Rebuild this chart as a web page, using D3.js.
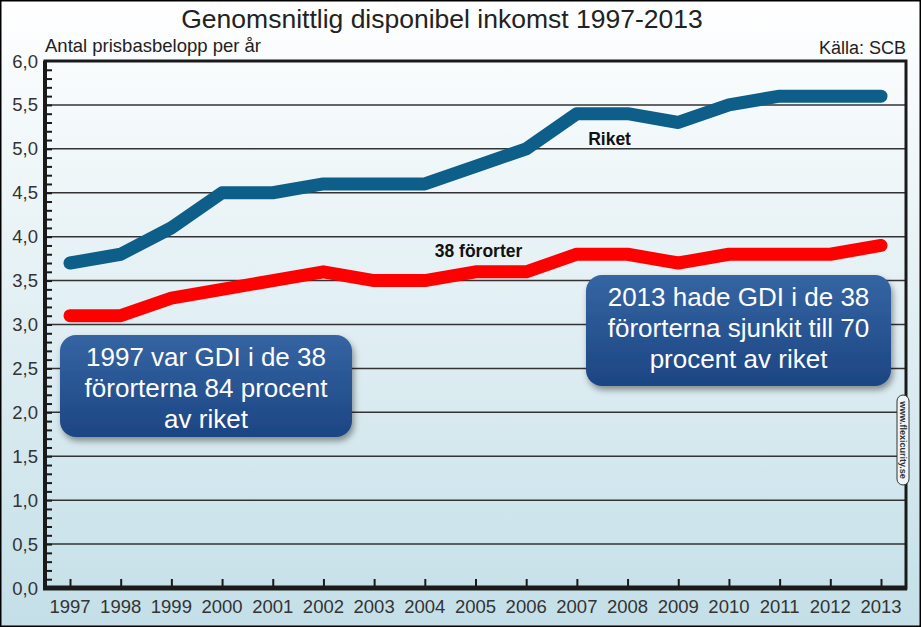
<!DOCTYPE html>
<html>
<head>
<meta charset="utf-8">
<script src="https://cdn.jsdelivr.net/npm/d3@7"></script>
<style>
  body { margin: 0; background: #fff; }
  svg { display: block; font-family: "Liberation Sans", Arial, sans-serif; }
</style>
</head>
<body>
<div class="chart"></div>
<script>
var years = [1997, 1998, 1999, 2000, 2001, 2002, 2003, 2004, 2005, 2006, 2007, 2008, 2009, 2010, 2011, 2012, 2013];
var riket = [3.7, 3.8, 4.1, 4.5, 4.5, 4.6, 4.6, 4.6, 4.8, 5.0, 5.4, 5.4, 5.3, 5.5, 5.6, 5.6, 5.6];
var fororter = [3.1, 3.1, 3.3, 3.4, 3.5, 3.6, 3.5, 3.5, 3.6, 3.6, 3.8, 3.8, 3.7, 3.8, 3.8, 3.8, 3.9];
var yTicks = [0, 0.5, 1, 1.5, 2, 2.5, 3, 3.5, 4, 4.5, 5, 5.5, 6];
var leftBoxLines = ["1997 var GDI i de 38", "förorterna 84 procent", "av riket"];
var rightBoxLines = ["2013 hade GDI i de 38", "förorterna sjunkit till 70", "procent av riket"];

var svgWidth = 921;
var svgHeight = 627;
var margin = { top: 61, right: 15, bottom: 39, left: 45 };
var width = svgWidth - margin.left - margin.right;
var height = svgHeight - margin.top - margin.bottom;

var svg = d3.select(".chart")
  .append("svg")
  .attr("width", svgWidth)
  .attr("height", svgHeight);

var defs = svg.append("defs");

// background gradient, white at top to pale blue at bottom
var bg = defs.append("linearGradient")
  .attr("id", "bg").attr("x1", 0).attr("y1", 0).attr("x2", 0).attr("y2", 1);
bg.append("stop").attr("offset", "0%").attr("stop-color", "#ffffff");
bg.append("stop").attr("offset", "100%").attr("stop-color", "#c4dfe8");

var boxGrad = defs.append("linearGradient")
  .attr("id", "boxGrad").attr("x1", 0).attr("y1", 0).attr("x2", 0).attr("y2", 1);
boxGrad.append("stop").attr("offset", "0%").attr("stop-color", "#3565a3");
boxGrad.append("stop").attr("offset", "100%").attr("stop-color", "#1d4583");

var shadow = defs.append("filter").attr("id", "shadow")
  .attr("x", "-10%").attr("y", "-10%").attr("width", "130%").attr("height", "140%");
shadow.append("feDropShadow")
  .attr("dx", 2).attr("dy", 4).attr("stdDeviation", 3)
  .attr("flood-color", "#000").attr("flood-opacity", 0.4);

svg.append("rect")
  .attr("x", 0.5).attr("y", 0.5)
  .attr("width", svgWidth - 1).attr("height", svgHeight - 1)
  .attr("fill", "url(#bg)")
  .attr("stroke", "#000")
  .attr("stroke-width", 2);

// titles
svg.append("text")
  .attr("x", 442).attr("y", 28)
  .attr("text-anchor", "middle")
  .attr("font-size", 26.5)
  .attr("fill", "#222")
  .text("Genomsnittlig disponibel inkomst 1997-2013");

svg.append("text")
  .attr("x", 45).attr("y", 52)
  .attr("font-size", 18.5)
  .attr("fill", "#222")
  .text("Antal prisbasbelopp per år");

svg.append("text")
  .attr("x", 906).attr("y", 54)
  .attr("text-anchor", "end")
  .attr("font-size", 18)
  .attr("fill", "#222")
  .text("Källa: SCB");

var chartGroup = svg.append("g")
  .attr("transform", `translate(${margin.left}, ${margin.top})`);

var xScale = d3.scalePoint()
  .domain(years)
  .range([25, width - 25]);

var yScale = d3.scaleLinear()
  .domain([0, 6])
  .range([height, 0]);

// horizontal grid lines
chartGroup.selectAll(".grid")
  .data(yTicks.slice(1))
  .enter()
  .append("line")
  .attr("x1", 0).attr("x2", width)
  .attr("y1", d => yScale(d)).attr("y2", d => yScale(d))
  .attr("stroke", "#333")
  .attr("stroke-width", 1.5);

// frame
chartGroup.append("rect")
  .attr("width", width).attr("height", height)
  .attr("fill", "none")
  .attr("stroke", "#1a1a1a")
  .attr("stroke-width", 3);

// y axis with minor ticks
var yAxis = d3.axisRight(yScale)
  .tickValues(d3.range(0, 60, 1).map(d => d / 10))
  .tickSize(7)
  .tickFormat("");
chartGroup.append("g")
  .call(yAxis)
  .call(g => g.select(".domain").remove())
  .call(g => g.selectAll("line").attr("stroke", "#1a1a1a").attr("stroke-width", 2));

chartGroup.selectAll(".ylab")
  .data(yTicks)
  .enter()
  .append("text")
  .attr("x", -7)
  .attr("y", d => yScale(d) + 6.5)
  .attr("text-anchor", "end")
  .attr("font-size", 18.5)
  .attr("fill", "#333")
  .text(d => d3.format(".1f")(d).replace(".", ","));

// x axis
var xAxis = d3.axisTop(xScale).tickSize(9).tickFormat("");
chartGroup.append("g")
  .attr("transform", `translate(0, ${height})`)
  .call(xAxis)
  .call(g => g.select(".domain").remove())
  .call(g => g.selectAll("line").attr("stroke", "#1a1a1a").attr("stroke-width", 2));

chartGroup.selectAll(".xlab")
  .data(years)
  .enter()
  .append("text")
  .attr("x", d => xScale(d))
  .attr("y", height + 25)
  .attr("text-anchor", "middle")
  .attr("font-size", 18.5)
  .attr("fill", "#333")
  .text(d => d);

// thick left and bottom axis lines
chartGroup.append("line")
  .attr("x1", 0).attr("x2", 0).attr("y1", 0).attr("y2", height + 2)
  .attr("stroke", "#1a1a1a").attr("stroke-width", 4);
chartGroup.append("line")
  .attr("x1", -2).attr("x2", width + 1).attr("y1", height).attr("y2", height)
  .attr("stroke", "#1a1a1a").attr("stroke-width", 5);

var line = d3.line()
  .x((d, i) => xScale(years[i]))
  .y(d => yScale(d));

chartGroup.append("path")
  .datum(riket)
  .attr("d", line)
  .attr("fill", "none")
  .attr("stroke", "#0d5e88")
  .attr("stroke-width", 13)
  .attr("stroke-linecap", "round")
  .attr("stroke-linejoin", "round");

chartGroup.append("path")
  .datum(fororter)
  .attr("d", line)
  .attr("fill", "none")
  .attr("stroke", "#ff0000")
  .attr("stroke-width", 13)
  .attr("stroke-linecap", "round")
  .attr("stroke-linejoin", "round");

// series labels
chartGroup.append("text")
  .attr("x", xScale(2008) - 18)
  .attr("y", yScale(5.4) + 31)
  .attr("text-anchor", "middle")
  .attr("font-size", 17.5)
  .attr("font-weight", "bold")
  .attr("fill", "#111")
  .text("Riket");

chartGroup.append("text")
  .attr("x", xScale(2005) + 3)
  .attr("y", yScale(3.6) - 15)
  .attr("text-anchor", "middle")
  .attr("font-size", 17.5)
  .attr("font-weight", "bold")
  .attr("fill", "#111")
  .text("38 förorter");

// annotation boxes
function addBox(x, y, w, h, lines) {
  var g = svg.append("g");
  g.append("rect")
    .attr("x", x).attr("y", y)
    .attr("width", w).attr("height", h)
    .attr("rx", 16)
    .attr("fill", "url(#boxGrad)")
    .attr("filter", "url(#shadow)");
  g.selectAll("text")
    .data(lines)
    .enter()
    .append("text")
    .attr("x", x + w / 2)
    .attr("y", (d, i) => y + 31 + i * 31)
    .attr("text-anchor", "middle")
    .attr("font-size", 26)
    .attr("fill", "#fff")
    .text(d => d);
}
addBox(60, 335, 292, 102, leftBoxLines);
addBox(586, 275, 305, 111, rightBoxLines);

// watermark
var wm = svg.append("g")
  .attr("transform", "translate(903, 440) rotate(90)");
wm.append("rect")
  .attr("x", -45).attr("y", -6)
  .attr("width", 90).attr("height", 12)
  .attr("rx", 6)
  .attr("fill", "#eef5f7")
  .attr("stroke", "#333")
  .attr("stroke-width", 1);
wm.append("text")
  .attr("x", 0).attr("y", 3.5)
  .attr("text-anchor", "middle")
  .attr("font-size", 9)
  .attr("font-weight", "bold")
  .attr("fill", "#333")
  .text("www.flexicurity.se");
</script>
</body>
</html>
